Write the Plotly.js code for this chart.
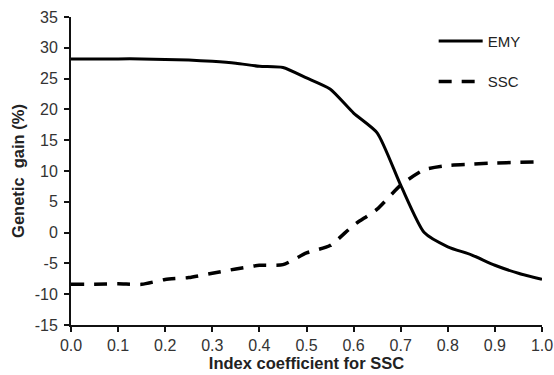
<!DOCTYPE html>
<html>
<head>
<meta charset="utf-8">
<script src="https://cdn.plot.ly/plotly-3.0.1.min.js"></script>
<style>html,body{margin:0;padding:0;background:#fff;}#chart{width:554px;height:375px;}</style>
</head>
<body>
<div id="chart"></div>
<script>
var indexCoef = [0.0, 0.05, 0.1, 0.15, 0.2, 0.25, 0.3, 0.35, 0.4, 0.45, 0.5, 0.55, 0.6, 0.65, 0.7, 0.75, 0.8, 0.85, 0.9, 0.95, 1.0];
var emy = [28.2, 28.2, 28.2, 28.2, 28.1, 28.0, 27.8, 27.5, 27.0, 26.8, 25.1, 23.3, 19.4, 16.2, 7.7, 0.0, -2.3, -3.6, -5.3, -6.6, -7.6];
var ssc = [-8.4, -8.4, -8.3, -8.4, -7.6, -7.3, -6.6, -5.9, -5.3, -5.2, -3.3, -2.1, 1.2, 3.8, 7.7, 10.2, 10.9, 11.1, 11.3, 11.4, 11.5];
var yTicks = [-15, -10, -5, 0, 5, 10, 15, 20, 25, 30, 35];
var yTickText = ['-15', '-10', '-5', '0', '5', '10', '15', '20', '25', '30', '35'];
var xTicks = [0.0, 0.1, 0.2, 0.3, 0.4, 0.5, 0.6, 0.7, 0.8, 0.9, 1.0];
var xTickText = ['0.0', '0.1', '0.2', '0.3', '0.4', '0.5', '0.6', '0.7', '0.8', '0.9', '1.0'];

var traces = [
  {x: indexCoef, y: emy, name: 'EMY', type: 'scatter', mode: 'lines', legendgroup: 'a',
   line: {color: '#000', width: 3, shape: 'spline', smoothing: 0.6}},
  {x: indexCoef, y: ssc, name: 'SSC', type: 'scatter', mode: 'lines', legendgroup: 'b',
   line: {color: '#000', width: 3.5, dash: '13px,10px', shape: 'spline', smoothing: 0.6}}
];

var layout = {
  width: 554, height: 375,
  margin: {l: 71, r: 12, t: 17, b: 50},
  paper_bgcolor: '#fff', plot_bgcolor: '#fff',
  font: {family: 'Liberation Sans, Arial, sans-serif', color: '#222', size: 15},
  showlegend: true,
  legend: {x: 0.77, y: 0.975, xanchor: 'left', yanchor: 'top', bgcolor: 'rgba(0,0,0,0)',
    traceorder: 'grouped', tracegroupgap: 18, itemwidth: 44, font: {size: 15, color: '#222'}},
  xaxis: {range: [0, 1], tickvals: xTicks, ticktext: xTickText,
    showgrid: false, zeroline: false, showline: true, linecolor: '#111', linewidth: 2,
    ticks: 'outside', ticklen: 5, tickwidth: 2, tickcolor: '#111',
    tickfont: {size: 16, color: '#333'},
    title: {text: '<b>Index coefficient for SSC</b>', font: {size: 16.5, color: '#222'}, standoff: 4}},
  yaxis: {range: [-15, 35], tickvals: yTicks, ticktext: yTickText,
    showgrid: false, zeroline: false, showline: true, linecolor: '#111', linewidth: 2,
    ticks: 'outside', ticklen: 5, tickwidth: 2, tickcolor: '#111', ticklabelstandoff: 3,
    tickfont: {size: 16, color: '#333'},
    title: {text: '<b>Genetic  gain (%)</b>', font: {size: 16.5, color: '#222'}, standoff: 6}}
};

Plotly.newPlot('chart', traces, layout, {staticPlot: true, displayModeBar: false});
</script>
</body>
</html>
